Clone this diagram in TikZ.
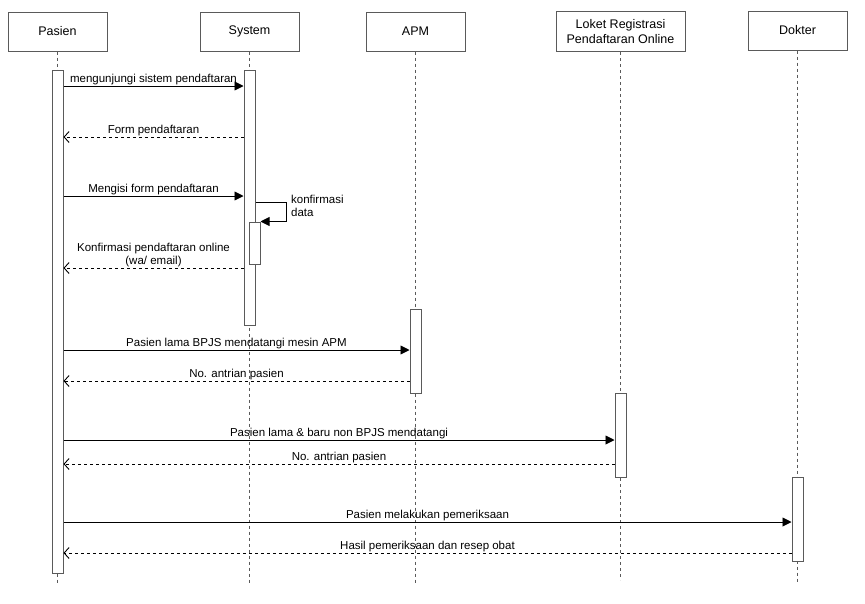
\documentclass[tikz,border=0pt]{standalone}
\usepackage{fontspec}
\setmainfont{Liberation Sans}
\usetikzlibrary{arrows.meta, positioning, calc}
\definecolor{boxline}{RGB}{90,90,90}
\tikzset{
    actor/.style={
        rectangle, draw=boxline, line width=1pt, fill=white,
        text centered, minimum width=99pt, minimum height=39pt,
        font=\fontsize{12.5}{14.5}\selectfont, align=center
    },
    activation/.style={
        rectangle, draw=boxline, line width=1pt, fill=white,
        minimum width=11pt, inner sep=0pt
    },
    lifeline/.style={draw=boxline, line width=0.8pt, dash pattern=on 3pt off 3pt},
    msg/.style={draw=black, line width=0.9pt, -{Triangle[length=9pt, width=9pt]}},
    reply/.style={draw=black, line width=0.9pt, dash pattern=on 3pt off 3pt,
        -{Straight Barb[length=5pt, width=11pt]}},
    msgtext/.style={font=\fontsize{11.5}{13}\selectfont, above, inner sep=1pt, align=center}
}

\begin{document}
\begin{tikzpicture}[x=1pt, y=-1pt]
\useasboundingbox (0,0) rectangle (865,603);

% Participants
\node[actor] (pasien) at (57.5,31.5) {Pasien};
\node[actor, right=92pt of pasien] (system) {System};
\node[actor, right=66pt of system] (apm) {APM};
\node[actor, minimum width=129pt, minimum height=40pt, right=90pt of apm] (loket) {Loket Registrasi\\Pendaftaran Online};
\node[actor, right=62pt of loket, yshift=1pt] (dokter) {Dokter};

% Lifelines
\draw[lifeline] (pasien.south) -- (pasien.south |- 0,583);
\draw[lifeline] (system.south) -- (system.south |- 0,583);
\draw[lifeline] (apm.south) -- (apm.south |- 0,583);
\draw[lifeline] (loket.south) -- (loket.south |- 0,580);
\draw[lifeline] (dokter.south) -- (dokter.south |- 0,582);

% Activation bars
\node[activation, minimum height=503pt] (pasienbar) at (pasien |- 0,321.5) {};
\node[activation, minimum height=255pt] (systembar) at (system |- 0,197.5) {};
\node[activation, minimum height=42pt, xshift=5pt] (confirmbar) at (system |- 0,243) {};
\node[activation, minimum height=84pt] (apmbar) at (apm |- 0,351) {};
\node[activation, minimum height=84pt] (loketbar) at (loket |- 0,435) {};
\node[activation, minimum height=84pt] (dokterbar) at (dokter |- 0,519) {};

% Online registration
\draw[msg] (pasienbar.east |- 0,86) -- node[msgtext] {mengunjungi sistem pendaftaran} (systembar.west |- 0,86);
\draw[reply] (systembar.west |- 0,137) -- node[msgtext] {Form pendaftaran} (pasienbar.east |- 0,137);
\draw[msg] (pasienbar.east |- 0,196) -- node[msgtext] {Mengisi form pendaftaran} (systembar.west |- 0,196);
\draw[msg] (systembar.east |- 0,202) -- ++(31,0) |- (confirmbar.north east);
\node[font=\fontsize{11.5}{13}\selectfont, align=left, anchor=north west, inner sep=0pt] (konfirm) at (291,195) {konfirmasi\\data};
\draw[reply] (systembar.west |- 0,268) -- node[msgtext] {Konfirmasi pendaftaran online\\(wa/ email)} (pasienbar.east |- 0,268);

% APM
\draw[msg] (pasienbar.east |- 0,350) -- node[msgtext] {Pasien lama BPJS mendatangi mesin APM} (apmbar.west |- 0,350);
\draw[reply] (apmbar.west |- 0,381) -- node[msgtext] {No. antrian pasien} (pasienbar.east |- 0,381);

% Loket
\draw[msg] (pasienbar.east |- 0,440) -- node[msgtext] {Pasien lama \& baru non BPJS mendatangi} (loketbar.west |- 0,440);
\draw[reply] (loketbar.west |- 0,464) -- node[msgtext] {No. antrian pasien} (pasienbar.east |- 0,464);

% Dokter
\draw[msg] (pasienbar.east |- 0,522) -- node[msgtext] {Pasien melakukan pemeriksaan} (dokterbar.west |- 0,522);
\draw[reply] (dokterbar.west |- 0,553) -- node[msgtext] {Hasil pemeriksaan dan resep obat} (pasienbar.east |- 0,553);

\end{tikzpicture}
\end{document}
